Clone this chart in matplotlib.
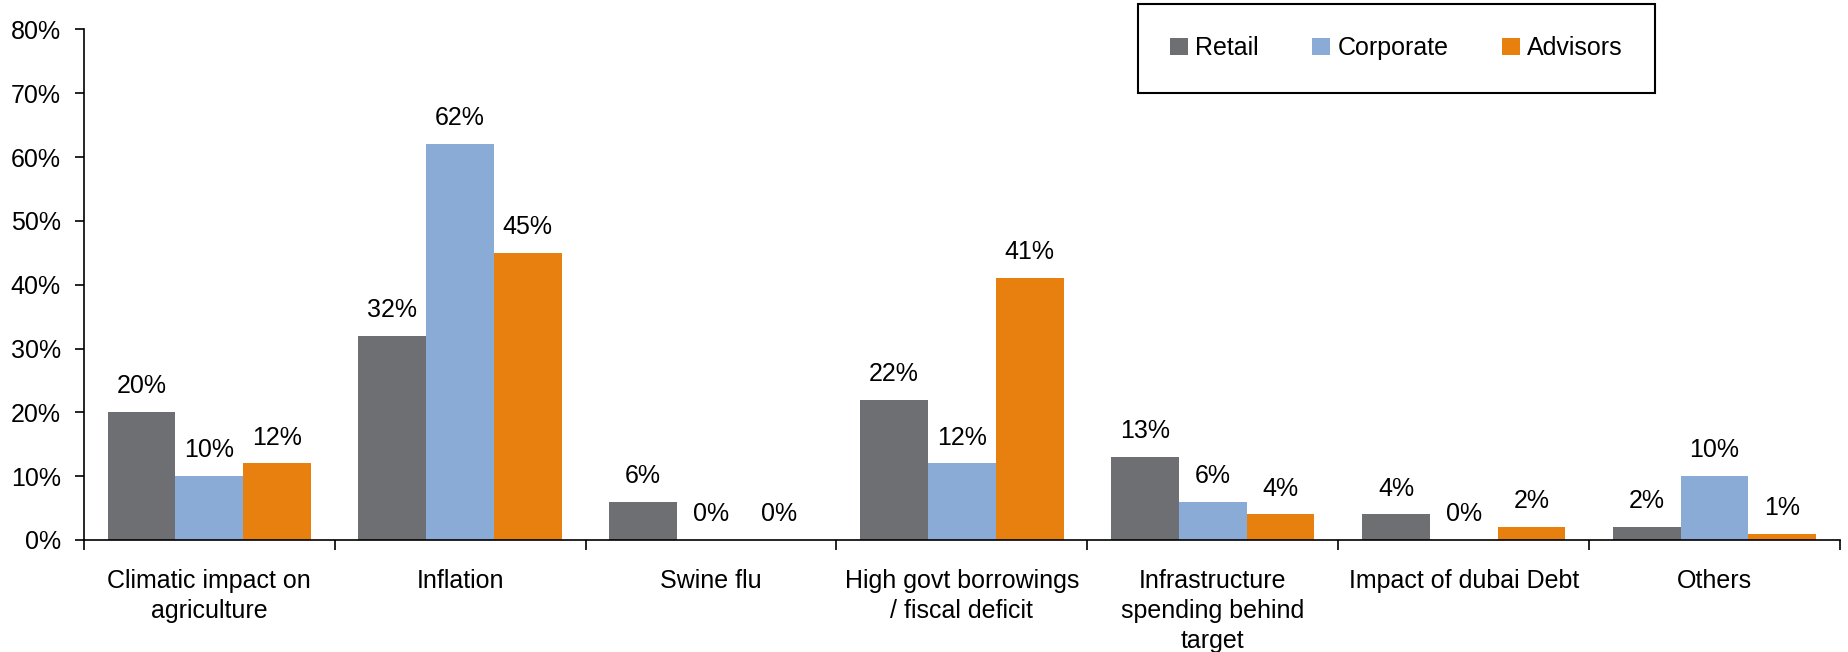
"""Bar chart of perceived economic risks by respondent group."""

import matplotlib
matplotlib.use("Agg")
import matplotlib.pyplot as plt
import numpy as np


CATEGORIES = [
    "Climatic impact on\nagriculture",
    "Inflation",
    "Swine flu",
    "High govt borrowings\n/ fiscal deficit",
    "Infrastructure\nspending behind\ntarget",
    "Impact of dubai Debt",
    "Others",
]
RETAIL = [20, 32, 6, 22, 13, 4, 2]
CORPORATE = [10, 62, 0, 12, 6, 0, 10]
ADVISORS = [12, 45, 0, 41, 4, 2, 1]

SERIES = [
    ("Retail", RETAIL, "#6e6f73"),
    ("Corporate", CORPORATE, "#89abd5"),
    ("Advisors", ADVISORS, "#e8800f"),
]

plt.rcParams["font.family"] = ["Liberation Sans", "DejaVu Sans"]
FONT_SIZE = 18

fig = plt.figure(figsize=(18.48, 6.52), dpi=100)
ax = fig.add_axes([0.0453, 0.1718, 0.9504, 0.7830])

x = np.arange(len(CATEGORIES))
width = 0.27

for i, (name, values, color) in enumerate(SERIES):
    pos = x + (i - 1) * width
    ax.bar(pos, values, width=width, color=color, label=name, zorder=2)
    for px, v in zip(pos, values):
        ax.annotate(f"{v}%", (px, v), xytext=(0, 10), textcoords="offset points",
                    ha="center", va="bottom", fontsize=FONT_SIZE)

ax.set_xlim(-0.5, len(CATEGORIES) - 0.5)
ax.set_ylim(0, 80)
ax.set_yticks(range(0, 81, 10))
ax.set_yticklabels([f"{t}%" for t in range(0, 81, 10)])

# category labels at the centres, tick marks between the groups
ax.set_xticks(x)
ax.set_xticklabels(CATEGORIES, linespacing=1.3)
ax.set_xticks(np.arange(-0.5, len(CATEGORIES)), minor=True)
ax.tick_params(axis="x", which="major", length=0, pad=21, labelsize=FONT_SIZE)
ax.tick_params(axis="x", which="minor", length=7, width=1.2, direction="out")
ax.tick_params(axis="y", length=6.5, width=1.2, pad=10, labelsize=FONT_SIZE)

for side in ("top", "right"):
    ax.spines[side].set_visible(False)
for side in ("left", "bottom"):
    ax.spines[side].set_linewidth(1.2)

leg = ax.legend(loc="upper left", bbox_to_anchor=(0.600, 1.050), ncol=3,
                fontsize=FONT_SIZE, frameon=True, fancybox=False,
                borderpad=1.3, borderaxespad=0, handlelength=0.7,
                handleheight=0.7, handletextpad=0.3, columnspacing=2.15)
leg.get_frame().set_edgecolor("black")
leg.get_frame().set_linewidth(1.5)
leg.get_frame().set_alpha(1)

fig.savefig("out.png", dpi=100)
